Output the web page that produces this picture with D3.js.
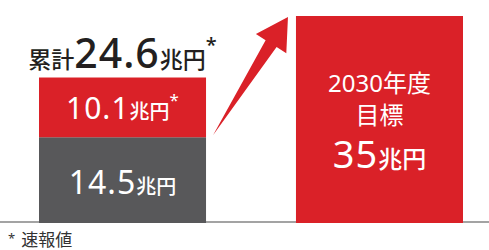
<!DOCTYPE html>
<html>
<head>
<meta charset="utf-8">
<script src="https://cdn.jsdelivr.net/npm/d3@7"></script>
<style>
  body { margin: 0; background: #fff; }
  svg { display: block; font-family: "Noto Sans", "Noto Sans CJK JP", sans-serif; }
</style>
</head>
<body>
<svg width="489" height="250"></svg>
<script>
// values
const categories = ["actual", "target"];
const actualParts = [14.5, 10.1];      // bottom (grey), top (red, 速報値)
const actualPartFlags = [false, true]; // * = preliminary
const actualTotal = 24.6;
const targetValue = 35;
const targetLabel = ["2030年度", "目標"];
const unit = "兆円";

const red = "#da2128", grey = "#58585a", ink = "#231f20";

const svg = d3.select("svg");
const W = 489;

const x = d3.scaleBand()
  .domain(categories)
  .range([39, 463])
  .paddingInner(0.35);

const y = d3.scaleLinear()
  .domain([0, targetValue])
  .range([223, 16]);

const bw = x.bandwidth();

// baseline
svg.append("line")
  .attr("x1", 0).attr("x2", W)
  .attr("y1", 222).attr("y2", 222)
  .attr("stroke", "#a3a3a3")
  .attr("stroke-width", 2);

// stacked cumulative bar
let acc = 0;
const segs = actualParts.map((v, i) => {
  const s = { v, y0: acc, y1: acc + v, color: i === 0 ? grey : red, star: actualPartFlags[i] };
  acc += v;
  return s;
});

svg.selectAll(".seg")
  .data(segs)
  .join("rect")
  .attr("class", "seg")
  .attr("x", x("actual"))
  .attr("width", bw)
  .attr("y", d => y(d.y1))
  .attr("height", d => y(d.y0) - y(d.y1))
  .attr("fill", d => d.color);

// target bar
svg.append("rect")
  .attr("x", x("target"))
  .attr("width", bw)
  .attr("y", y(targetValue))
  .attr("height", y(0) - y(targetValue))
  .attr("fill", red);

// segment labels
const cx = x("actual") + bw / 2;
segs.forEach((d, i) => {
  const mid = (y(d.y0) + y(d.y1)) / 2;
  const t = svg.append("text")
    .attr("x", cx)
    .attr("y", mid + (i === 0 ? 14 : 12))
    .attr("text-anchor", "middle")
    .attr("fill", "#fff");
  t.append("tspan").attr("font-size", i === 0 ? 32 : 30).attr("letter-spacing", 1).text(d3.format(".1f")(d.v));
  t.append("tspan").attr("font-size", 20).attr("font-weight", 500).text(unit);
  if (d.star) t.append("tspan").attr("font-size", 17).attr("dy", -13).text("*");
});

// cumulative total label
const tot = svg.append("text")
  .attr("x", cx)
  .attr("y", y(actualTotal) - 10)
  .attr("text-anchor", "middle")
  .attr("fill", ink)
  .attr("font-weight", 500);
tot.append("tspan").attr("font-size", 23).text("累計");
tot.append("tspan").attr("font-size", 41).attr("letter-spacing", 1).text(actualTotal);
tot.append("tspan").attr("font-size", 23).text(unit);
tot.append("tspan").attr("font-size", 20).attr("dy", -16).text("*");

// target labels
const tx = x("target") + bw / 2;
const tmid = (y(0) + y(targetValue)) / 2;
targetLabel.forEach((s, i) => {
  svg.append("text")
    .attr("x", tx)
    .attr("y", tmid - 28 + i * 32)
    .attr("text-anchor", "middle")
    .attr("fill", "#fff")
    .attr("font-size", 24)
    .text(s);
});
const tv = svg.append("text")
  .attr("x", tx)
  .attr("y", tmid + 48)
  .attr("text-anchor", "middle")
  .attr("fill", "#fff");
tv.append("tspan").attr("font-size", 38).attr("letter-spacing", 1).text(targetValue);
tv.append("tspan").attr("font-size", 24).attr("font-weight", 500).text(unit);

// arrow from the cumulative bar up to the target bar
const tail = [x("actual") + bw + 7, y(actualParts[0]) - 2];
const tip = [x("target") - 8, y(targetValue) + 1];
const dx = tip[0] - tail[0], dy = tip[1] - tail[1];
const L = Math.hypot(dx, dy);
const u = [dx / L, dy / L], n = [-u[1], u[0]];
const pt = (along, side) => [tip[0] - u[0] * along + n[0] * side, tip[1] - u[1] * along + n[1] * side];
const arrow = [tail, pt(31.5, -6.5), pt(31.5, -18), tip, pt(31.5, 18), pt(31.5, 6.5)];
svg.append("path")
  .attr("d", d3.line()(arrow) + "Z")
  .attr("fill", red);

// footnote
const fn = svg.append("text")
  .attr("x", 8)
  .attr("y", 246)
  .attr("fill", "#333")
  .attr("font-size", 17);
fn.append("tspan").attr("font-size", 13).attr("dy", -3).text("*");
fn.append("tspan").attr("dx", 6).attr("dy", 3).text("速報値");
</script>
</body>
</html>
